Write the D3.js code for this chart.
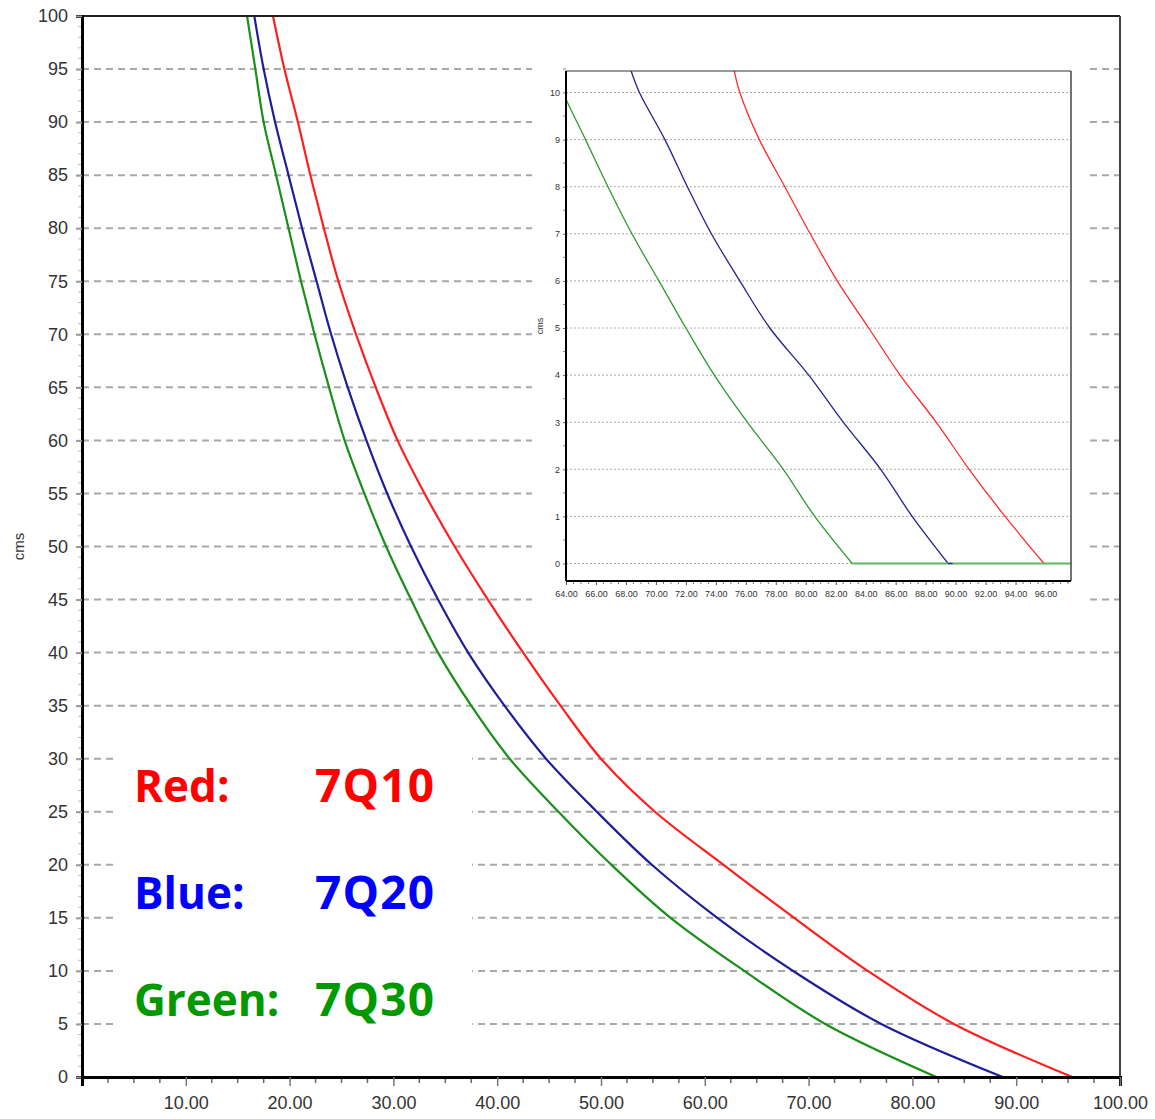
<!DOCTYPE html>
<html><head><meta charset="utf-8">
<script src="https://cdn.jsdelivr.net/npm/d3@7"></script>
<style>
html,body{margin:0;padding:0;background:#fff;}
svg{display:block;}
</style></head>
<body>
<svg id="chart" width="1155" height="1119"></svg>
<script>
// ---------- DATA ----------
// Main chart: flow (cms) levels and the exceedance percent at which each curve crosses them
const mainLevels = [100,95,90,85,80,75,70,65,60,55,50,45,40,35,30,25,20,15,10,5,0];
const mainRed    = [18.4,19.5,20.8,22.0,23.3,24.7,26.4,28.3,30.4,33.0,35.9,39.1,42.5,46.1,50.0,55.2,61.8,68.6,75.7,84.0,95.4];
const mainBlue   = [16.6,17.5,18.6,19.9,21.2,22.6,24.0,25.6,27.4,29.4,31.7,34.3,37.2,40.7,44.7,49.6,54.9,61.2,68.5,77.0,88.7];
const mainGreen  = [15.9,16.7,17.5,18.7,19.9,21.1,22.4,23.8,25.3,27.2,29.3,31.7,34.3,37.5,41.2,45.9,51.0,56.7,63.8,71.6,82.3];
// Inset (zoom on 0-10 cms)
const insetLevels = [10.5,10,9,8,7,6,5,4,3,2,1,0];
const insetRed    = [75.2,75.6,76.9,78.6,80.3,82.1,84.2,86.3,88.7,90.9,93.3,95.9];
const insetBlue   = [68.3,68.9,70.6,72.1,73.7,75.6,77.6,80.2,82.5,85.0,87.1,89.5];
const insetGreen  = [63.2,63.8,65.3,66.8,68.4,70.2,72.0,73.9,76.1,78.5,80.6,83.1];
const blueTailEnd = 89.8;   // blue stays at 0 until here
const greenTailEnd = 100;   // green stays at 0 to the end
// Tick labels
const mainYTicks = [0,5,10,15,20,25,30,35,40,45,50,55,60,65,70,75,80,85,90,95,100];
const mainXTicks = [10,20,30,40,50,60,70,80,90,100];
const insetYTicks = [0,1,2,3,4,5,6,7,8,9,10];
const insetXTicks = [64,66,68,70,72,74,76,78,80,82,84,86,88,90,92,94,96];
const legendNames = ["Red:","Blue:","Green:"];
const legendLabels = ["7Q10","7Q20","7Q30"];
const yTitle = "cms";

// ---------- STYLE ----------
const C = {red:"#ff1e1e", blue:"#1e1e9a", green:"#1a8f1a"};
const LC = ["#ff0000","#0000ff","#009900"];

const svg = d3.select("#chart");
const x = d3.scaleLinear().domain([0,100]).range([82,1120]);
const y = d3.scaleLinear().domain([0,100]).range([1077,16]);

// main grid
svg.append("g").selectAll("line").data(mainYTicks.filter(v=>v>0 && v<100)).join("line")
  .attr("x1",x(0)).attr("x2",x(100)).attr("y1",d=>y(d)).attr("y2",d=>y(d))
  .attr("stroke","#a8a8a8").attr("stroke-width",2).attr("stroke-dasharray","7,5");

// clip main
svg.append("clipPath").attr("id","mclip").append("rect")
  .attr("x",x(0)).attr("y",y(100)).attr("width",x(100)-x(0)).attr("height",y(0)-y(100));

const smooth = d3.curveCatmullRom.alpha(0.5);
const lineMain = d3.line().x(d=>x(d[0])).y(d=>y(d[1])).curve(smooth);
function series(xs, levels){ return xs.map((v,i)=>[v,levels[i]]); }
const mg = svg.append("g").attr("clip-path","url(#mclip)");
mg.append("path").datum([[mainGreen[mainGreen.length-1],0],[greenTailEnd,0]])
  .attr("d",d3.line().x(d=>x(d[0])).y(d=>y(d[1])))
  .attr("fill","none").attr("stroke",C.green).attr("stroke-width",2.2);
[[mainGreen,C.green],[mainBlue,C.blue],[mainRed,C.red]].forEach(([arr,col])=>{
  mg.append("path").datum(series(arr,mainLevels)).attr("d",lineMain)
    .attr("fill","none").attr("stroke",col).attr("stroke-width",2.2);
});

// legend box
svg.append("rect").attr("x",115).attr("y",722).attr("width",357).attr("height",328).attr("fill","#fff");
const lg = svg.append("g").attr("font-family","'Open Sans', sans-serif").attr("font-weight",700);
legendNames.forEach((n,i)=>{
  const by = 802 + i*107;
  lg.append("text").attr("x",134).attr("y",by).attr("font-size",44).attr("fill",LC[i]).text(n);
  lg.append("text").attr("x",315).attr("y",by).attr("font-size",46).attr("letter-spacing",1.2).attr("fill",LC[i]).text(legendLabels[i]);
});

// main frame
svg.append("line").attr("x1",x(0)).attr("x2",x(100)).attr("y1",y(100)).attr("y2",y(100)).attr("stroke","#222").attr("stroke-width",2);
svg.append("line").attr("x1",x(100)).attr("x2",x(100)).attr("y1",y(100)).attr("y2",y(0)).attr("stroke","#444").attr("stroke-width",2);

// main y axis
const yMinor = d3.range(0,101,1);
svg.append("g").selectAll("line").data(yMinor).join("line")
  .attr("x1",x(0)-4).attr("x2",x(0)).attr("y1",d=>y(d)).attr("y2",d=>y(d))
  .attr("stroke","#bbb").attr("stroke-width",1);
const yAxis = d3.axisLeft(y).tickValues(mainYTicks).tickSize(6).tickPadding(8).tickFormat(d3.format("d"));
const ya = svg.append("g").attr("transform",`translate(${x(0)},0)`).call(yAxis);
ya.select(".domain").attr("stroke","#000").attr("stroke-width",3);
ya.selectAll(".tick line").attr("stroke","#999").attr("stroke-width",2);
ya.selectAll(".tick text").attr("font-family","'Liberation Sans', Arial, sans-serif").attr("font-size",18).attr("fill","#333");

// main x axis
const xMinor = d3.range(0,100.01,2.5).filter(v=>v%10!==0);
svg.append("g").selectAll("line").data(xMinor).join("line")
  .attr("x1",d=>x(d)).attr("x2",d=>x(d)).attr("y1",y(0)).attr("y2",y(0)+6)
  .attr("stroke","#666").attr("stroke-width",1.5);
const xAxis = d3.axisBottom(x).tickValues(mainXTicks).tickSize(9).tickPadding(10).tickFormat(d3.format(".2f"));
const xa = svg.append("g").attr("transform",`translate(0,${y(0)})`).call(xAxis);
xa.select(".domain").attr("stroke","#000").attr("stroke-width",3);
xa.selectAll(".tick line").attr("stroke","#777").attr("stroke-width",1.5);
xa.selectAll(".tick text").attr("font-family","'Liberation Sans', Arial, sans-serif").attr("font-size",18).attr("fill","#333");

svg.append("text").attr("transform",`translate(24,${(y(0)+y(100))/2}) rotate(-90)`)
  .attr("text-anchor","middle").attr("font-family","'Liberation Sans', Arial, sans-serif")
  .attr("font-size",15).attr("fill","#333").text(yTitle);

// ---------- INSET ----------
svg.append("rect").attr("x",532).attr("y",58).attr("width",553).attr("height",556).attr("fill","#fff");
const ix = d3.scaleLinear().domain([64,97.7]).range([566,1071]);
const iy = d3.scaleLinear().domain([0,10]).range([563.5,92.5]);
const iTop = 71, iBot = 581;

svg.append("g").selectAll("line").data(insetYTicks).join("line")
  .attr("x1",ix(64)).attr("x2",1071).attr("y1",d=>iy(d)).attr("y2",d=>iy(d))
  .attr("stroke","#aaa").attr("stroke-width",1).attr("stroke-dasharray","2,2");

svg.append("clipPath").attr("id","iclip").append("rect")
  .attr("x",566).attr("y",iTop).attr("width",1071-566).attr("height",iBot-iTop);
const lineIn = d3.line().x(d=>ix(d[0])).y(d=>iy(d[1])).curve(smooth);
const lineInStraight = d3.line().x(d=>ix(d[0])).y(d=>iy(d[1]));
const ig = svg.append("g").attr("clip-path","url(#iclip)");
ig.append("path").datum(series(insetGreen,insetLevels)).attr("d",lineIn)
  .attr("fill","none").attr("stroke","#2e9a2e").attr("stroke-width",1.3);
ig.append("path").datum(series(insetBlue,insetLevels)).attr("d",lineIn)
  .attr("fill","none").attr("stroke","#22228f").attr("stroke-width",1.3);
ig.append("path").datum(series(insetRed,insetLevels)).attr("d",lineIn)
  .attr("fill","none").attr("stroke","#ff2a2a").attr("stroke-width",1.3);
// green zero segment on top, then blue's short zero stretch
ig.append("path").datum([[insetGreen[insetGreen.length-1],0],[greenTailEnd,0]]).attr("d",lineInStraight)
  .attr("fill","none").attr("stroke","#5cb85c").attr("stroke-width",2);
ig.append("path").datum([[insetBlue[insetBlue.length-1],0],[blueTailEnd,0]]).attr("d",lineInStraight)
  .attr("fill","none").attr("stroke","#22228f").attr("stroke-width",1.3);

// inset frame
svg.append("line").attr("x1",566).attr("x2",1071).attr("y1",iTop).attr("y2",iTop).attr("stroke","#333").attr("stroke-width",1.2);
svg.append("line").attr("x1",1071).attr("x2",1071).attr("y1",iTop).attr("y2",iBot).attr("stroke","#444").attr("stroke-width",1.5);

const iyMinor = d3.range(-0.0,10.51,0.5).filter(v=>v%1!==0);
svg.append("g").selectAll("line").data(iyMinor).join("line")
  .attr("x1",563).attr("x2",566).attr("y1",d=>iy(d)).attr("y2",d=>iy(d)).attr("stroke","#888");
const iyAxis = d3.axisLeft(iy).tickValues(insetYTicks).tickSize(3).tickPadding(3).tickFormat(d3.format("d"));
const iya = svg.append("g").attr("transform","translate(566,0)").call(iyAxis);
iya.select(".domain").remove();
iya.selectAll(".tick line").attr("stroke","#666");
iya.selectAll(".tick text").attr("font-family","'Liberation Sans', Arial, sans-serif").attr("font-size",9).attr("fill","#333");
svg.append("line").attr("x1",566).attr("x2",566).attr("y1",iTop).attr("y2",iBot).attr("stroke","#000").attr("stroke-width",2);

const ixMinor = d3.range(64,97.7,0.5).filter(v=>v%2!==0);
svg.append("g").selectAll("line").data(ixMinor).join("line")
  .attr("x1",d=>ix(d)).attr("x2",d=>ix(d)).attr("y1",iBot).attr("y2",iBot+3).attr("stroke","#777");
const ixAxis = d3.axisBottom(ix).tickValues(insetXTicks).tickSize(4).tickPadding(6).tickFormat(d3.format(".2f"));
const ixa = svg.append("g").attr("transform",`translate(0,${iBot})`).call(ixAxis);
ixa.select(".domain").remove();
ixa.selectAll(".tick line").attr("stroke","#555");
ixa.selectAll(".tick text").attr("font-family","'Liberation Sans', Arial, sans-serif").attr("font-size",9).attr("fill","#333");
svg.append("line").attr("x1",566).attr("x2",1071).attr("y1",iBot).attr("y2",iBot).attr("stroke","#000").attr("stroke-width",2);

svg.append("text").attr("transform",`translate(543,${(iTop+iBot)/2}) rotate(-90)`)
  .attr("text-anchor","middle").attr("font-family","'Liberation Sans', Arial, sans-serif")
  .attr("font-size",9).attr("fill","#333").text(yTitle);
</script>
</body></html>
